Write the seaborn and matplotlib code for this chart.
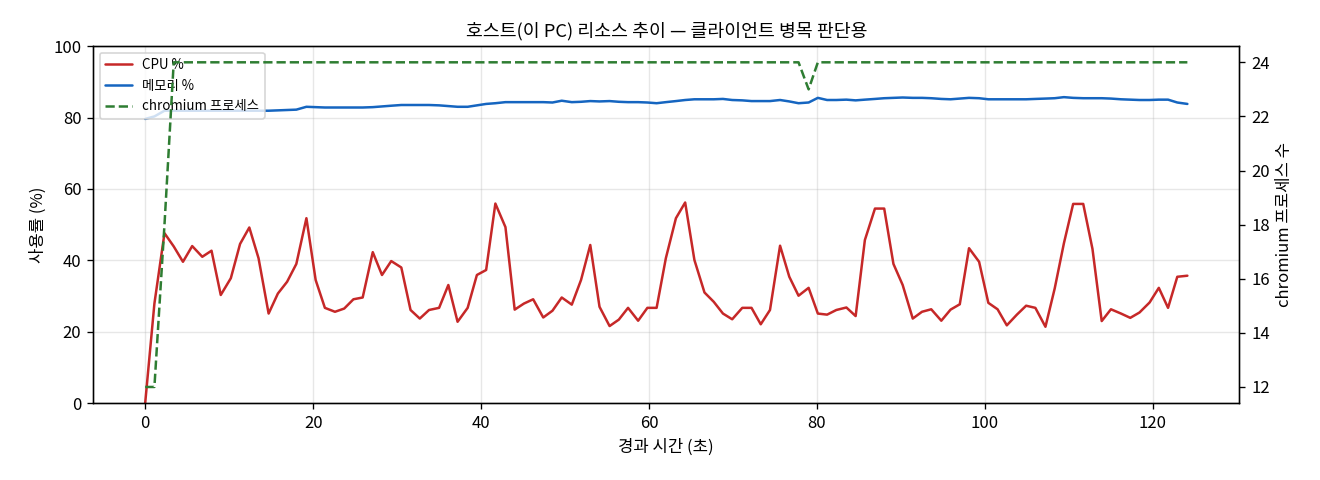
import numpy as np
import pandas as pd
import matplotlib
matplotlib.use("Agg")
import matplotlib.pyplot as plt
import seaborn as sns

# Data (about one sample every 1.13 s)
elapsed = [0.0, 1.1, 2.3, 3.4, 4.5, 5.6, 6.8, 7.9, 9.0, 10.2,
           11.3, 12.4, 13.5, 14.7, 15.8, 16.9, 18.0, 19.2, 20.3, 21.4,
           22.6, 23.7, 24.8, 25.9, 27.1, 28.2, 29.3, 30.5, 31.6, 32.7,
           33.8, 35.0, 36.1, 37.2, 38.4, 39.5, 40.6, 41.7, 42.9, 44.0,
           45.1, 46.2, 47.4, 48.5, 49.6, 50.8, 51.9, 53.0, 54.1, 55.3,
           56.4, 57.5, 58.7, 59.8, 60.9, 62.0, 63.2, 64.3, 65.4, 66.6,
           67.7, 68.8, 69.9, 71.1, 72.2, 73.3, 74.4, 75.6, 76.7, 77.8,
           79.0, 80.1, 81.2, 82.3, 83.5, 84.6, 85.7, 86.9, 88.0, 89.1,
           90.2, 91.4, 92.5, 93.6, 94.8, 95.9, 97.0, 98.1, 99.3, 100.4,
           101.5, 102.6, 103.8, 104.9, 106.0, 107.2, 108.3, 109.4, 110.5, 111.7,
           112.8, 113.9, 115.0, 116.2, 117.3, 118.4, 119.6, 120.7, 121.8, 122.9,
           124.1]

cpu_pct = [0.0, 27.9, 47.6, 43.9, 39.6, 44.0, 41.0, 42.7, 30.3, 35.0,
           44.6, 49.2, 40.6, 25.1, 30.7, 34.0, 39.0, 51.8, 34.5, 26.7,
           25.6, 26.5, 29.1, 29.6, 42.3, 35.9, 39.8, 38.0, 26.1, 23.7,
           26.1, 26.7, 33.1, 22.8, 26.7, 35.9, 37.3, 55.9, 49.3, 26.2,
           27.9, 29.1, 24.0, 25.9, 29.6, 27.6, 34.5, 44.3, 27.0, 21.6,
           23.4, 26.7, 23.1, 26.7, 26.7, 40.6, 51.8, 56.2, 40.1, 31.0,
           28.4, 25.1, 23.5, 26.7, 26.7, 22.1, 26.1, 44.1, 35.4, 30.1,
           32.3, 25.1, 24.8, 26.1, 26.8, 24.4, 45.7, 54.5, 54.5, 39.0,
           33.1, 23.7, 25.6, 26.3, 23.1, 26.2, 27.7, 43.4, 39.6, 28.1,
           26.3, 21.8, 24.8, 27.3, 26.7, 21.4, 32.1, 44.8, 55.8, 55.8,
           43.2, 23.0, 26.3, 25.1, 23.9, 25.4, 28.2, 32.3, 26.7, 35.4,
           35.7]

mem_pct = [79.6, 80.3, 81.9, 81.9, 81.9, 81.9, 81.9, 81.9, 81.9, 81.9,
           81.9, 81.9, 81.9, 81.9, 82.0, 82.1, 82.2, 83.0, 82.9, 82.8,
           82.8, 82.8, 82.8, 82.8, 82.9, 83.1, 83.3, 83.5, 83.5, 83.5,
           83.5, 83.4, 83.2, 83.0, 83.0, 83.4, 83.8, 84.0, 84.3, 84.3,
           84.3, 84.3, 84.3, 84.2, 84.7, 84.3, 84.4, 84.6, 84.5, 84.6,
           84.4, 84.3, 84.3, 84.2, 84.0, 84.3, 84.6, 84.9, 85.1, 85.1,
           85.1, 85.2, 84.9, 84.8, 84.6, 84.6, 84.6, 84.9, 84.5, 84.0,
           84.2, 85.5, 84.9, 84.9, 85.0, 84.8, 85.0, 85.2, 85.4, 85.5,
           85.6, 85.5, 85.5, 85.4, 85.2, 85.1, 85.3, 85.5, 85.4, 85.1,
           85.1, 85.1, 85.1, 85.1, 85.2, 85.3, 85.4, 85.7, 85.5, 85.4,
           85.4, 85.4, 85.3, 85.1, 85.0, 84.9, 84.9, 85.0, 85.0, 84.2,
           83.8]

chromium_procs = [12, 12, 18, 24, 24, 24, 24, 24, 24, 24,
                  24, 24, 24, 24, 24, 24, 24, 24, 24, 24,
                  24, 24, 24, 24, 24, 24, 24, 24, 24, 24,
                  24, 24, 24, 24, 24, 24, 24, 24, 24, 24,
                  24, 24, 24, 24, 24, 24, 24, 24, 24, 24,
                  24, 24, 24, 24, 24, 24, 24, 24, 24, 24,
                  24, 24, 24, 24, 24, 24, 24, 24, 24, 24,
                  23, 24, 24, 24, 24, 24, 24, 24, 24, 24,
                  24, 24, 24, 24, 24, 24, 24, 24, 24, 24,
                  24, 24, 24, 24, 24, 24, 24, 24, 24, 24,
                  24, 24, 24, 24, 24, 24, 24, 24, 24, 24,
                  24]

df = pd.DataFrame({"t": elapsed, "cpu": cpu_pct, "mem": mem_pct, "procs": chromium_procs})

sns.set_style("ticks", {"axes.edgecolor": "black", "xtick.color": "black",
                        "ytick.color": "black", "text.color": "black",
                        "axes.labelcolor": "black"})
plt.rcParams['font.family'] = ['Noto Sans CJK KR', 'DejaVu Sans']
plt.rcParams['axes.unicode_minus'] = False

fig, ax = plt.subplots(figsize=(11, 4), dpi=120)
fig.subplots_adjust(left=0.0705, right=0.939, top=0.904, bottom=0.16)

sns.lineplot(data=df, x="t", y="cpu", ax=ax, color="#c62828", linewidth=1.5, label="CPU %")
sns.lineplot(data=df, x="t", y="mem", ax=ax, color="#1565c0", linewidth=1.5, label="메모리 %")
ax.set_ylim(0, 100)
ax.set_xlabel("경과 시간 (초)", fontsize=10)
ax.set_ylabel("사용률 (%)", fontsize=10)
ax.set_title("호스트(이 PC) 리소스 추이 — 클라이언트 병목 판단용", fontsize=11)
ax.grid(True, color="#b0b0b0", alpha=0.3)
ax.tick_params(labelsize=10)

ax2 = ax.twinx()
sns.lineplot(data=df, x="t", y="procs", ax=ax2, color="#2e7d32", linewidth=1.5,
             linestyle="--", label="chromium 프로세스")
ax2.set_ylabel("chromium 프로세스 수", fontsize=10)
ax2.tick_params(labelsize=10)
for side in ["top", "right", "left", "bottom"]:
    ax.spines[side].set_visible(True)
    ax2.spines[side].set_visible(True)

# Combined legend on the left axis
h1, l1 = ax.get_legend_handles_labels()
h2, l2 = ax2.get_legend_handles_labels()
if ax2.get_legend():
    ax2.get_legend().remove()
ax.legend(h1 + h2, l1 + l2, loc="upper left", fontsize=8)

fig.savefig("out.png", dpi=120)
